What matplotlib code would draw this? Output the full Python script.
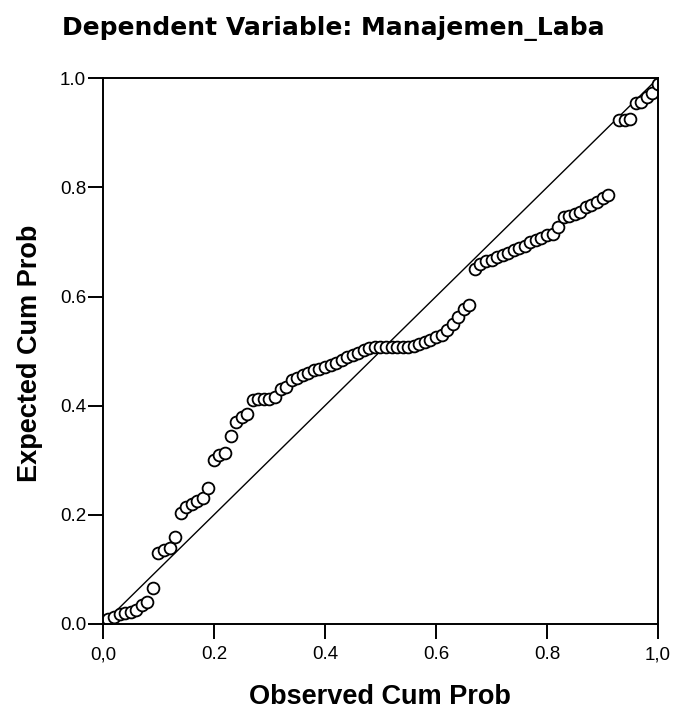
"""
    normal P-P plot of regression standardized residual
    dependent variable: Manajemen_Laba
"""
import matplotlib
matplotlib.use('Agg')
import matplotlib.pyplot as plt

# observed cumulative probability
obs_cum = [0.01, 0.02, 0.03, 0.04, 0.05, 0.06, 0.07, 0.08, 0.09,
           0.10, 0.11, 0.12, 0.13, 0.14, 0.15, 0.16, 0.17, 0.18, 0.19,
           0.20, 0.21, 0.22, 0.23, 0.24, 0.25, 0.26, 0.27, 0.28, 0.29,
           0.30, 0.31, 0.32, 0.33, 0.34, 0.35, 0.36, 0.37, 0.38, 0.39,
           0.40, 0.41, 0.42, 0.43, 0.44, 0.45, 0.46, 0.47, 0.48, 0.49,
           0.50, 0.51, 0.52, 0.53, 0.54, 0.55, 0.56, 0.57, 0.58, 0.59,
           0.60, 0.61, 0.62, 0.63, 0.64, 0.65, 0.66, 0.67, 0.68, 0.69,
           0.70, 0.71, 0.72, 0.73, 0.74, 0.75, 0.76, 0.77, 0.78, 0.79,
           0.80, 0.81, 0.82, 0.83, 0.84, 0.85, 0.86, 0.87, 0.88, 0.89,
           0.90, 0.91, 0.93, 0.94, 0.95, 0.96, 0.97, 0.98, 0.99, 1.00]

# expected cumulative probability
exp_cum = [0.010, 0.013, 0.018, 0.020, 0.022, 0.025, 0.035, 0.040, 0.065,
           0.130, 0.136, 0.140, 0.160, 0.203, 0.215, 0.220, 0.225, 0.230, 0.250,
           0.300, 0.310, 0.313, 0.345, 0.370, 0.380, 0.385, 0.410, 0.413, 0.413,
           0.413, 0.415, 0.430, 0.435, 0.447, 0.450, 0.456, 0.460, 0.465, 0.468,
           0.470, 0.475, 0.478, 0.483, 0.490, 0.493, 0.497, 0.502, 0.505, 0.507,
           0.508, 0.508, 0.508, 0.508, 0.508, 0.508, 0.510, 0.513, 0.516, 0.520,
           0.526, 0.530, 0.538, 0.550, 0.563, 0.577, 0.584, 0.651, 0.660, 0.665,
           0.667, 0.672, 0.676, 0.680, 0.685, 0.688, 0.693, 0.700, 0.703, 0.707,
           0.712, 0.715, 0.728, 0.745, 0.748, 0.752, 0.755, 0.764, 0.768, 0.774,
           0.780, 0.786, 0.923, 0.923, 0.925, 0.955, 0.957, 0.965, 0.972, 0.990]

ticks = [0.0, 0.2, 0.4, 0.6, 0.8, 1.0]
x_tick_labels = ['0,0', '0.2', '0.4', '0.6', '0.8', '1,0']
y_tick_labels = ['0.0', '0.2', '0.4', '0.6', '0.8', '1.0']

plt.rcParams['font.family'] = ['Liberation Sans', 'DejaVu Sans']

fig = plt.figure(figsize=(6.77, 7.11), dpi=100)
ax = fig.add_axes([0.152, 0.1224, 0.820, 0.7676])

ax.plot([0, 1], [0, 1], color='black', linewidth=1.0, zorder=1)
ax.plot(obs_cum, exp_cum, linestyle='none', marker='o', markersize=8.5,
        markerfacecolor='white', markeredgecolor='black', markeredgewidth=1.3, zorder=2)

ax.set_xlim(0, 1)
ax.set_ylim(0, 1)
ax.set_xticks(ticks)
ax.set_xticklabels(x_tick_labels)
ax.set_yticks(ticks)
ax.set_yticklabels(y_tick_labels)
ax.tick_params(direction='out', length=11, width=1.4, labelsize=13.5)
ax.tick_params(axis='x', pad=5)
ax.tick_params(axis='y', pad=1)
for s in ax.spines.values():
    s.set_linewidth(1.4)

# axis titles and chart title placed in figure coords
fig.text(380 / 677, 1 - 704 / 711, 'Observed Cum Prob', fontsize=19.5,
         fontweight='bold', ha='center', va='baseline')
fig.text(30 / 677, 1 - 353 / 711, 'Expected Cum Prob', fontsize=19.5,
         fontweight='bold', ha='center', va='center', rotation=90)
fig.text(333 / 677, 1 - 35 / 711, 'Dependent Variable: Manajemen_Laba',
         fontsize=18, fontweight='bold', family=['DejaVu Sans'],
         ha='center', va='baseline')

fig.savefig('out.png', dpi=100)
